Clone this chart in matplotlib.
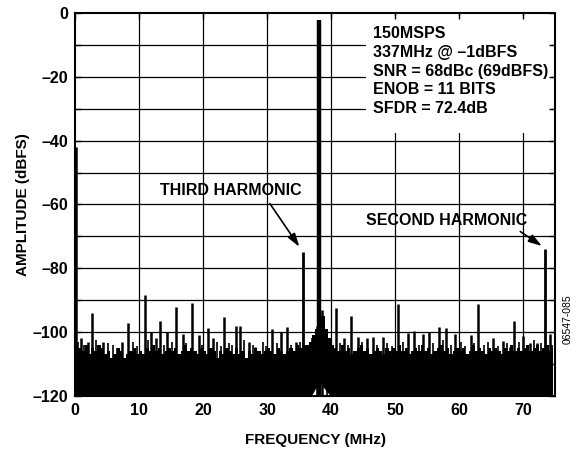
import numpy as np
import matplotlib
matplotlib.use("Agg")
import matplotlib.pyplot as plt
from matplotlib.patches import Rectangle

plt.rcParams['font.family'] = ['Liberation Sans', 'DejaVu Sans']
plt.rcParams['font.weight'] = 'bold'

# noise floor top, one value every 0.5 MHz (bin centres 0.25 ... 74.75 MHz)
noise_freq = np.arange(0.25, 75, 0.5)
noise_top = [
    -104, -105, -106, -104, -107, -105, -106, -104, -105, -107,
    -106, -108, -107, -105, -106, -108, -107, -106, -105, -107,
    -106, -107, -105, -106, -104, -106, -105, -107, -106, -105,
    -106, -105, -107, -106, -104, -106, -105, -106, -107, -105,
    -106, -107, -105, -106, -108, -106, -107, -105, -106, -107,
    -105, -107, -106, -108, -106, -107, -105, -106, -107, -106,
    -105, -106, -107, -105, -106, -107, -106, -105, -106, -104,
    -105, -104, -104, -103, -101, -99, -97, -95, -99, -102,
    -104, -105, -106, -104, -106, -105, -107, -106, -105, -104,
    -106, -105, -107, -106, -105, -106, -107, -105, -106, -105,
    -106, -104, -106, -105, -107, -106, -105, -106, -104, -106,
    -105, -107, -106, -105, -104, -106, -105, -107, -106, -105,
    -106, -105, -107, -106, -104, -106, -105, -106, -107, -105,
    -106, -105, -106, -107, -105, -106, -104, -106, -105, -106,
    -105, -104, -106, -105, -104, -106, -105, -104, -106, -105,
]

# small grass spikes just above the floor
grass_freq = [0.5, 1.4, 3.3, 3.8, 5.1, 5.9, 6.6, 9.1, 9.7, 11.4, 13.9, 15.2,
              17.4, 19.9, 22.2, 22.8, 24.1, 24.6, 26.4, 27.8, 29.3, 29.9,
              31.5, 33.7, 35.1, 37.1, 39.4, 41.4, 42.6, 44.8, 47.2, 48.8,
              49.5, 51.3, 53.7, 55.9, 57.5, 58.7, 60.3, 60.9, 62.4, 63.9,
              64.6, 66.1, 67.5, 69.3, 70.6, 71.7, 72.8, 74.6]
grass_level = [-103, -104, -102.5, -104.5, -103.5, -104, -105, -103, -104.5, -102.5,
               -104, -103, -103.5, -104, -103, -104.5, -103.5, -104, -102.5, -104,
               -103, -104.5, -103.5, -104, -103, -102, -102.5, -103.5, -104, -103,
               -104, -103.5, -104.5, -103, -104, -103.5, -102.5, -104, -103, -104.5,
               -103.5, -104, -103, -104.5, -103.5, -103, -104, -102.5, -103.5, -104]

# white gap under the carrier skirt
skirt_freq = [36.8, 37.2, 37.6, 38.0, 38.3, 38.7, 39.2, 39.7, 40.1]
skirt_floor = [-120, -119, -117.5, -116.3, -115.8, -117, -118.3, -119.5, -120]

# spurs (MHz, dBFS)
spur_freq = [0.2, 0.9, 2.0, 2.7, 4.4, 7.3, 8.3, 10.9, 11.9, 12.7, 13.3, 14.4,
             15.8, 16.9, 18.3, 19.4, 20.8, 21.6, 23.3, 25.2, 25.8, 27.2, 28.1,
             30.8, 32.2, 33.1, 34.5, 36.6, 37.8, 38.6, 40.8, 42.0, 43.1, 44.2, 45.6,
             46.6, 48.1, 50.5, 52.0, 53.0, 54.4, 55.3, 56.9, 58.0, 59.4, 61.9,
             63.0, 65.3, 66.9, 68.0, 68.6, 70.0, 71.1, 72.2, 74.2]
spur_level = [-42, -102, -103, -94, -103, -103, -97, -88.4, -100, -102, -96.5, -100,
              -92, -100.7, -91, -101, -98.7, -102, -95.3, -98, -98, -103, -104.7,
              -99, -100, -98.5, -103, -104.7, -98, -93, -92.5, -102, -95, -101.5, -102,
              -101.6, -101.5, -91.3, -100.4, -99.7, -100.6, -100, -98.4, -98.7, -100.6, -101,
              -91.2, -102, -102.8, -104.6, -96.5, -101.2, -103.4, -103.4, -100.6]

carrier_freq = 38.1
carrier_level = -2.2
harm3_freq, harm3_level = 35.6, -75
harm2_freq, harm2_level = 73.5, -74

info = "150MSPS\n337MHz @ \u20131dBFS\nSNR = 68dBc (69dBFS)\nENOB = 11 BITS\nSFDR = 72.4dB"

FS = 11.5

fig = plt.figure(figsize=(5.8, 4.53), dpi=100)
ax = fig.add_axes([0.1293, 0.126, 0.8277, 0.8453])

for v in range(10, 75, 10):
    ax.axvline(v, color='black', lw=0.9, zorder=0.5)
for h in range(-110, 0, 10):
    ax.axhline(h, color='black', lw=0.9, zorder=0.5)

ax.add_patch(Rectangle((45.5, -37.6), 28.9, 36.7, facecolor='white',
                       edgecolor='none', zorder=1))

ax.fill_between(noise_freq, -120, noise_top, step='mid', color='black',
                lw=0, zorder=2)
ax.fill_between(skirt_freq, -120, skirt_floor, color='white', lw=0, zorder=2.1)
ax.vlines(grass_freq, -120, grass_level, color='black', lw=1.2, zorder=2.15)
ax.vlines(spur_freq, -120, spur_level, color='black', lw=1.8, zorder=2.2)
ax.vlines([harm3_freq, harm2_freq], -120, [harm3_level, harm2_level],
          color='black', lw=2.0, zorder=2.2)
ax.vlines([carrier_freq], -120, [carrier_level], color='black', lw=3.2, zorder=2.2)

ax.text(46.5, -4.2, info, fontsize=FS, fontweight='bold', va='top', ha='left',
        linespacing=1.3, zorder=1.5)

ax.text(24.3, -55.5, "THIRD HARMONIC", fontsize=FS, fontweight='bold',
        ha='center', va='center', zorder=3)
ax.annotate('', xy=(harm3_freq - 0.3, harm3_level + 1), xytext=(30.2, -59),
            arrowprops=dict(arrowstyle='-|>,head_length=0.8,head_width=0.25',
                            color='black', lw=1.2), zorder=3)
ax.text(58.1, -64.9, "SECOND HARMONIC", fontsize=FS, fontweight='bold',
        ha='center', va='center', zorder=3)
ax.annotate('', xy=(harm2_freq - 0.2, harm2_level + 0.5), xytext=(69.2, -68),
            arrowprops=dict(arrowstyle='-|>,head_length=0.8,head_width=0.25',
                            color='black', lw=1.2), zorder=3)

ax.set_xlim(0, 75)
ax.set_ylim(-120, 0)
ax.set_xticks(range(0, 75, 10))
ax.set_xticklabels([str(v) for v in range(0, 75, 10)])
yt = list(range(-120, 1, 10))
ax.set_yticks(yt)
ax.set_yticklabels([("0" if v == 0 else "\u2013%d" % -v) if v % 20 == 0 else "" for v in yt])
ax.tick_params(direction='in', length=4, width=1, top=True, right=True,
               labelsize=FS, pad=5)
for lab in ax.get_xticklabels() + ax.get_yticklabels():
    lab.set_fontweight('bold')
for s in ax.spines.values():
    s.set_linewidth(1.5)
ax.set_axisbelow(False)

ax.set_xlabel("FREQUENCY (MHz)", fontsize=11, fontweight='bold', labelpad=11)
ax.set_ylabel("AMPLITUDE (dBFS)", fontsize=11, fontweight='bold', labelpad=2)

fig.text(0.979, 0.295, "06547-085", rotation=90, fontsize=7.5, fontweight='normal',
         ha='center', va='center')

fig.savefig("out.png", dpi=100)
